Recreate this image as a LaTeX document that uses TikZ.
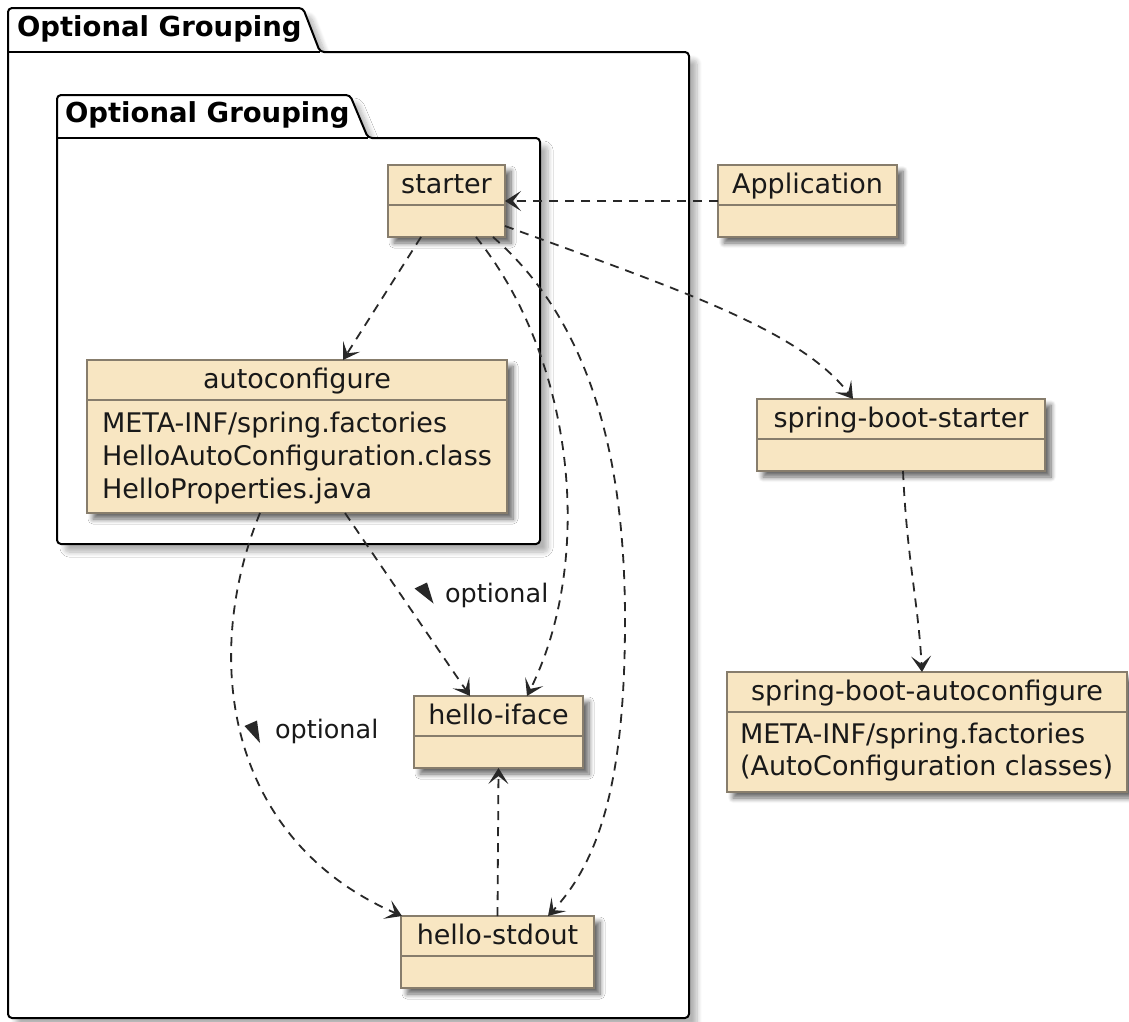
\documentclass[tikz,border=0pt]{standalone}
\usepackage{fontspec}
\setmainfont{DejaVu Sans}
\usetikzlibrary{arrows.meta,shadows.blur,calc}

\definecolor{clsfill}{RGB}{248,230,194}
\definecolor{clsline}{RGB}{135,125,108}
\definecolor{edgecol}{RGB}{40,40,40}
\definecolor{txt}{RGB}{25,25,25}

\begin{document}
\begin{tikzpicture}[x=1pt,y=-1pt,
  every node/.style={text=txt, inner sep=0pt, outer sep=0pt},
  cls/.style={rectangle, draw=clsline, fill=clsfill, line width=1.4pt,
    blur shadow={shadow xshift=6pt, shadow yshift=-6pt, shadow blur radius=5pt,
      shadow blur steps=8, shadow opacity=60}},
  divider/.style={draw=clsline, line width=1.1pt},
  title/.style={anchor=base, font=\fontsize{27}{32}\selectfont},
  member/.style={anchor=base west, font=\fontsize{27}{32}\selectfont},
  lbl/.style={anchor=base west, font=\fontsize{25.5}{30}\selectfont},
  pkg/.style={draw=black, line width=2pt, fill=white, rounded corners=4pt,
    line join=round,
    blur shadow={shadow xshift=8pt, shadow yshift=-8pt, shadow blur radius=5pt,
      shadow blur steps=8, shadow opacity=30}},
  pkgline/.style={draw=black, line width=2pt},
  pkgtitle/.style={anchor=base west, font=\fontsize{27.5}{32}\selectfont\bfseries, text=black},
  dep/.style={draw=edgecol, line width=1.8pt, dash pattern=on 9pt off 7pt,
    -{Stealth[length=16pt, width=20pt, inset=8pt]}},
  tri/.style={fill=edgecol},
]
\useasboundingbox (0,0) rectangle (1129,1021);

% outer package
\draw[pkg] (8,1018) -- (8,8) -- (303,8) -- (320,52) -- (689,52) -- (689,1018) -- cycle;
\draw[pkgline] (8,52) -- (320,52);
\node[pkgtitle] (outer-title) at (17,36) {Optional Grouping};

% inner package
\draw[pkg] (57,544) -- (57,95) -- (350,95) -- (368,138) -- (540,138) -- (540,544) -- cycle;
\draw[pkgline] (57,138) -- (368,138);
\node[pkgtitle] (inner-title) at (65,122) {Optional Grouping};

% class boxes
\node[cls, minimum width=117pt, minimum height=72pt] (starter) at (446.5,201) {};
\node[cls, minimum width=179pt, minimum height=72pt] (app) at (807.5,201) {};
\node[cls, minimum width=420pt, minimum height=153pt] (autoconf) at (297,436.5) {};
\node[cls, minimum width=288pt, minimum height=72pt] (sbs) at (901,435) {};
\node[cls, minimum width=400pt, minimum height=120pt] (sba) at (927,732) {};
\node[cls, minimum width=169pt, minimum height=72pt] (iface) at (498.5,732) {};
\node[cls, minimum width=193pt, minimum height=72pt] (stdout) at (497.5,952) {};

\foreach \n in {starter,app,autoconf,sbs,sba,iface,stdout}{
  \draw[divider] ([yshift=-40pt]\n.north west) -- ([yshift=-40pt]\n.north east);
}

\node[title] (starter-t) at ([yshift=-28pt]starter.north) {starter};
\node[title] (app-t) at ([yshift=-28pt]app.north) {Application};
\node[title] (autoconf-t) at ([yshift=-28pt]autoconf.north) {autoconfigure};
\node[title] (sbs-t) at ([yshift=-28pt]sbs.north) {spring-boot-starter};
\node[title] (sba-t) at ([yshift=-28pt]sba.north) {spring-boot-autoconfigure};
\node[title] (iface-t) at ([yshift=-28pt]iface.north) {hello-iface};
\node[title] (stdout-t) at ([yshift=-28pt]stdout.north) {hello-stdout};

\node[member] (ac-1) at (102,432) {META-INF/spring.factories};
\node[member] (ac-2) at (102,465) {HelloAutoConfiguration.class};
\node[member] (ac-3) at (102,498) {HelloProperties.java};
\node[member] (sba-1) at (740,743) {META-INF/spring.factories};
\node[member] (sba-2) at (740,775) {(AutoConfiguration classes)};

% dependencies
\draw[dep] (app.west) -- (starter.east);
\draw[dep] (starter.south -| 421,0) -- (autoconf.north -| 343,0);
\draw[dep] (starter.east |- 0,226) .. controls (680,290) and (800,330) .. (sbs.north -| 853,0);
\draw[dep] (sbs.south -| 903,0) .. controls (907,560) and (918,600) .. (sba.north -| 922,0);
\draw[dep] (starter.south -| 476,0) .. controls (575,360) and (595,560) .. (iface.north -| 527,0);
\draw[dep] (starter.south -| 493,0) .. controls (600,330) and (625,480) .. (625,620)
  .. controls (625,780) and (600,860) .. (stdout.north -| 548,0);
\draw[dep] (autoconf.south -| 345,0) -- (iface.north -| 470,0);
\draw[dep] (autoconf.south -| 260,0) .. controls (200,660) and (228,840) .. (stdout.north -| 402,0);
\draw[dep] (stdout.north) -- (iface.south);

% labels
\node[lbl] (opt-1) at (445,602) {optional};
\fill[tri] (414.5,588.5) -- (427,582.5) -- (433.5,603.5) -- cycle;
\node[lbl] (opt-2) at (275,738) {optional};
\fill[tri] (244.5,726) -- (257,720.5) -- (260,743) -- cycle;
\end{tikzpicture}
\end{document}
